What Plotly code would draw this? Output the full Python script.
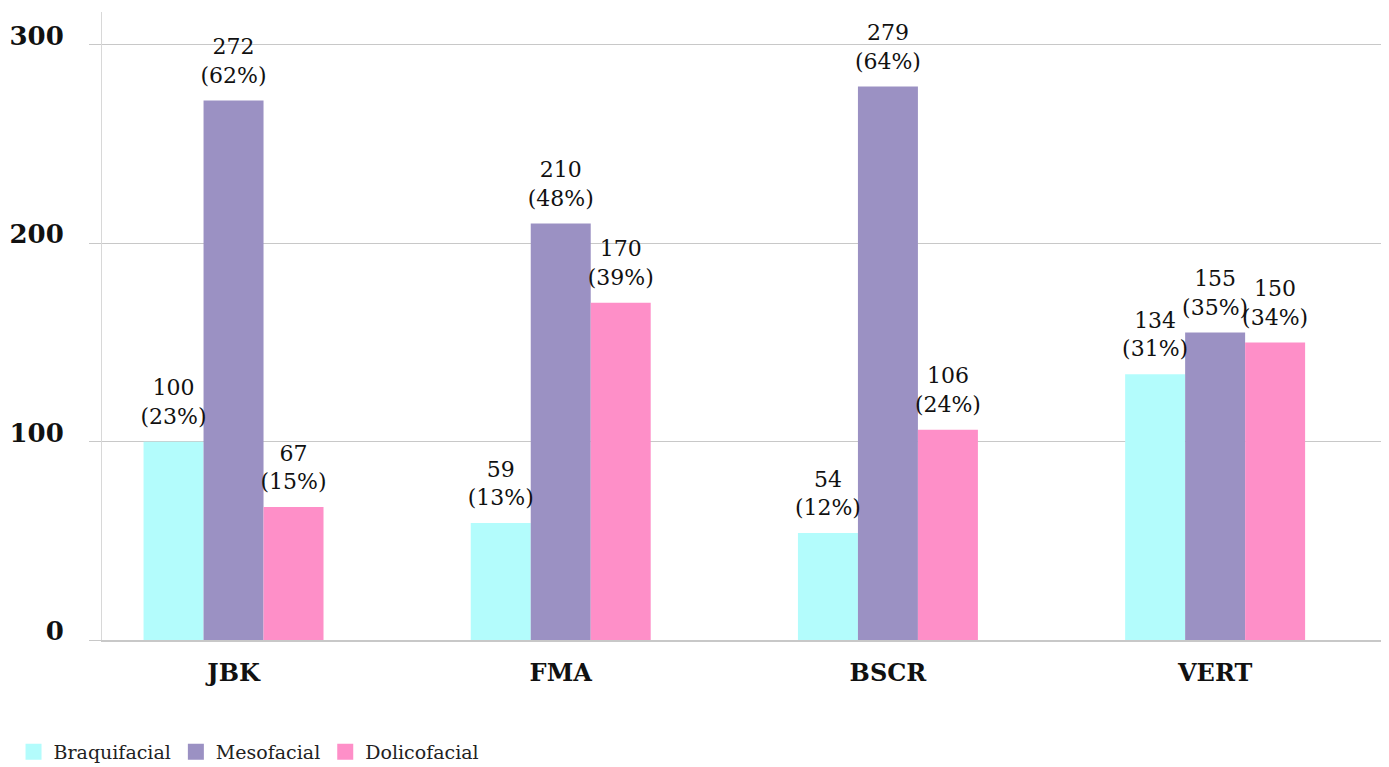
import plotly.graph_objects as go

categories = ["JBK", "FMA", "BSCR", "VERT"]
braqui = [100, 59, 54, 134]
meso = [272, 210, 279, 155]
dolico = [67, 170, 106, 150]
braqui_pct = ["23%", "13%", "12%", "31%"]
meso_pct = ["62%", "48%", "64%", "35%"]
dolico_pct = ["15%", "39%", "24%", "34%"]
y_ticks = [0, 100, 200, 300]

series = [
    ("Braquifacial", braqui, braqui_pct, "rgb(179,252,252)"),
    ("Mesofacial", meso, meso_pct, "rgb(155,145,195)"),
    ("Dolicofacial", dolico, dolico_pct, "rgb(254,143,200)"),
]

fig = go.Figure()
for i, (name, vals, pct, col) in enumerate(series):
    fig.add_trace(go.Bar(
        name=name, x=categories, y=vals, showlegend=False, offsetgroup=f"g{i}",
        marker=dict(color=col, line=dict(width=0)),
    ))
for i, (name, vals, pct, col) in enumerate(series):
    fig.add_trace(go.Scatter(
        name=name, x=categories, y=vals, customdata=pct, showlegend=False,
        offsetgroup=f"g{i}",
        mode="markers+text", marker=dict(size=18, opacity=0, color=col),
        texttemplate="%{y}<br>(%{customdata})", textposition="top center",
        textfont=dict(family="DejaVu Serif", size=22, color="#111"),
        cliponaxis=False, hoverinfo="skip",
    ))
for i, (name, vals, pct, col) in enumerate(series):
    fig.add_trace(go.Scatter(
        name=name, x=[None], y=[None], mode="markers", offsetgroup=f"g{i}",
        marker=dict(symbol="square", size=22, color=col),
    ))

fig.update_layout(
    barmode="group", bargap=0.45, bargroupgap=0,
    scattermode="group", scattergap=0.45,
    width=1381, height=759,
    margin=dict(l=94, r=7, t=4, b=127, autoexpand=False),
    plot_bgcolor="white", paper_bgcolor="white",
    legend=dict(orientation="h", xref="container", yref="container",
                x=0.004, xanchor="left", y=0.0198, yanchor="middle",
                font=dict(family="DejaVu Serif", size=19, color="#222"),
                itemwidth=30, traceorder="normal", itemsizing="trace"),
    xaxis=dict(range=[-0.402, 3.51], showline=True, linecolor="#c8c8c8", linewidth=2,
               tickfont=dict(family="DejaVu Serif", size=24, color="#111", weight="bold"),
               ticks="", ticklabelstandoff=10),
    yaxis=dict(range=[0, 316.6], tickvals=y_ticks, showgrid=True, gridcolor="#c8c8c8",
               gridwidth=1, showline=True, linecolor="#d8d8d8", linewidth=1,
               ticks="outside", ticklen=12, tickcolor="#c8c8c8",
               tickfont=dict(family="DejaVu Serif", size=26, color="#111", weight="bold"),
               zeroline=False, ticklabelstandoff=20, ticklabelshift=-9),
)
fig.write_html("out.html")
